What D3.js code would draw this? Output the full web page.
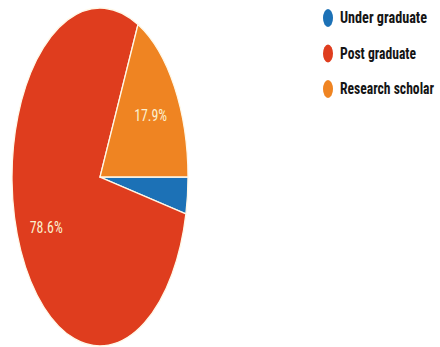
<!DOCTYPE html>
<html><head><meta charset="utf-8">
<script src="https://cdn.jsdelivr.net/npm/d3@7"></script>
<style>html,body{margin:0;padding:0;background:#fff;}svg{display:block;}</style>
</head><body>
<script>
const categories = ["Under graduate", "Post graduate", "Research scholar"];
const values = [3.5, 78.6, 17.9];
const labels = ["", "78.6%", "17.9%"];
const colors = ["#1c71b6", "#df3d1e", "#ef8422"];

const W = 440, H = 347;
const svg = d3.select("body").append("svg").attr("width", W).attr("height", H);

const cx = 100, cy = 177, rx = 88, ry = 169, R = 100;
const FONT = "'Liberation Sans Narrow','Roboto Condensed',Roboto,sans-serif";
const data = categories.map((c, i) => ({c, v: values[i], l: labels[i], col: colors[i]}));
const pie = d3.pie().value(d => d.v).sort(null).startAngle(Math.PI / 2).endAngle(Math.PI / 2 + 2 * Math.PI);
const arcs = pie(data);
const arc = d3.arc().innerRadius(0).outerRadius(R);
const labelArc = d3.arc().innerRadius(R * 0.68).outerRadius(R * 0.68);

const g = svg.append("g").attr("transform", `translate(${cx},${cy}) scale(${rx / R},${ry / R})`);
g.selectAll("path").data(arcs).join("path")
  .attr("d", arc).attr("fill", d => d.data.col)
  .attr("stroke", "#fff8e8").attr("stroke-width", 1.3)
  .attr("vector-effect", "non-scaling-stroke");

const lg = svg.append("g");
arcs.filter(d => d.data.l).forEach(d => {
  const [x, y] = labelArc.centroid(d);
  lg.append("text")
    .attr("transform", `translate(${cx + x * rx / R},${cy + y * ry / R}) scale(1,1.25)`)
    .attr("text-anchor", "middle").attr("dominant-baseline", "central")
    .attr("font-family", FONT)
    .attr("font-size", 13).attr("fill", "#fbf0cf")
    .attr("textLength", 33).attr("lengthAdjust", "spacingAndGlyphs")
    .text(d.data.l);
});

const legend = svg.append("g");
const ly = d3.scalePoint().domain(categories).range([18, 89]);
const lwidths = [87, 76, 94];
categories.forEach((c, i) => {
  legend.append("ellipse").attr("cx", 328).attr("cy", ly(c)).attr("rx", 5).attr("ry", 9).attr("fill", colors[i]);
  legend.append("text")
    .attr("transform", `translate(340,${ly(c)}) scale(1,1.3)`)
    .attr("dominant-baseline", "central")
    .attr("font-family", FONT).attr("font-weight", "bold")
    .attr("font-size", 12.5).attr("fill", "#151515")
    .attr("textLength", lwidths[i]).attr("lengthAdjust", "spacingAndGlyphs")
    .text(c);
});
</script>
</body></html>
